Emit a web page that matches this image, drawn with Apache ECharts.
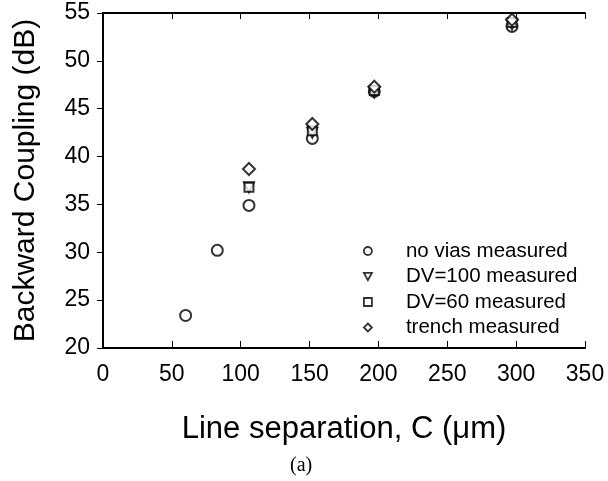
<!DOCTYPE html>
<html>
<head>
<meta charset="utf-8">
<script src="https://cdn.jsdelivr.net/npm/echarts@6/dist/echarts.min.js"></script>
<style>
  html, body { margin: 0; padding: 0; background: #fff; }
  #chart { width: 608px; height: 481px; }
</style>
</head>
<body>
<div id="chart"></div>
<script>
// measured points, [separation um, coupling dB]
var noVias = [[60, 23.4], [83, 30.2], [106, 34.9], [152, 41.9], [197, 46.8], [297, 53.6]];
var dv100 = [[106, 36.8], [152, 42.5], [197, 46.7], [297, 53.8]];
var dv60 = [[106, 36.8], [152, 42.7], [197, 46.9], [297, 54.0]];
var trench = [[106, 38.7], [152, 43.4], [197, 47.3], [297, 54.3]];

var seriesNames = ['no vias measured', 'DV=100 measured', 'DV=60 measured', 'trench measured'];
var xTicks = [0, 350, 50];
var yTicks = [20, 55, 5];

var font = 'Liberation Sans, Arial, sans-serif';
var downTriangle = 'path://M0,0 L10,0 L5,9 Z';
var myChart = echarts.init(document.getElementById('chart'));

function pointSeries(name, data, symbol, size) {
    return {
        name: name,
        type: 'scatter',
        data: data,
        symbol: symbol,
        symbolSize: size,
        itemStyle: { color: '#fff', borderColor: '#000', borderWidth: 2 },
        emphasis: { disabled: true }
    };
}

var option = {
    animation: false,
    grid: { left: 103, top: 13, right: 23, bottom: 133 },
    legend: {
        orient: 'vertical',
        left: 358,
        top: 235,
        itemWidth: 8,
        itemHeight: 8,
        itemGap: 3.5,
        data: [
            { name: seriesNames[0], icon: 'circle' },
            { name: seriesNames[1], icon: downTriangle },
            { name: seriesNames[2], icon: 'rect' },
            { name: seriesNames[3], icon: 'diamond' }
        ],
        itemStyle: { color: '#fff', borderColor: '#000', borderWidth: 1.8 },
        textStyle: { fontFamily: font, fontSize: 20.5, color: '#000', lineHeight: 22, padding: [0, 0, 0, 29] }
    },
    xAxis: [{
        type: 'value',
        min: xTicks[0], max: xTicks[1], interval: xTicks[2],
        position: 'bottom',
        name: 'Line separation, C (\u03bcm)',
        nameLocation: 'middle',
        nameGap: 66,
        nameTextStyle: { color: '#000', fontFamily: font, fontSize: 31 },
        axisLine: { lineStyle: { color: '#000', width: 2 } },
        axisTick: { inside: true, length: 7, lineStyle: { color: '#000', width: 1 } },
        axisLabel: { color: '#000', fontFamily: font, fontSize: 23, margin: 15 },
        splitLine: { show: false }
    }, {
        type: 'value',
        min: xTicks[0], max: xTicks[1], interval: xTicks[2],
        position: 'top',
        axisLine: { lineStyle: { color: '#000', width: 2 } },
        axisTick: { inside: true, length: 6, lineStyle: { color: '#000', width: 1 } },
        axisLabel: { show: false },
        splitLine: { show: false }
    }],
    yAxis: [{
        type: 'value',
        min: yTicks[0], max: yTicks[1], interval: yTicks[2],
        position: 'left',
        name: 'Backward Coupling (dB)',
        nameLocation: 'middle',
        nameGap: 62,
        nameTextStyle: { color: '#000', fontFamily: font, fontSize: 30 },
        axisLine: { lineStyle: { color: '#000', width: 2 } },
        axisTick: { inside: false, length: 6, lineStyle: { color: '#000', width: 1 } },
        axisLabel: { color: '#000', fontFamily: font, fontSize: 23, margin: 13 },
        splitLine: { show: false }
    }, {
        type: 'value',
        min: yTicks[0], max: yTicks[1], interval: yTicks[2],
        position: 'right',
        axisLine: { lineStyle: { color: '#000', width: 2 } },
        axisTick: { inside: true, length: 6, lineStyle: { color: '#000', width: 1 } },
        axisLabel: { show: false },
        splitLine: { show: false }
    }],
    graphic: [{
        type: 'text',
        left: 290, top: 456,
        style: { text: '(a)', font: '20px Liberation Serif, Times New Roman, serif', fill: '#000' }
    }],
    series: [
        pointSeries(seriesNames[0], noVias, 'circle', 11),
        pointSeries(seriesNames[1], dv100, downTriangle, 10),
        pointSeries(seriesNames[2], dv60, 'rect', 9),
        pointSeries(seriesNames[3], trench, 'diamond', 12)
    ]
};

myChart.setOption(option);
</script>
</body>
</html>
